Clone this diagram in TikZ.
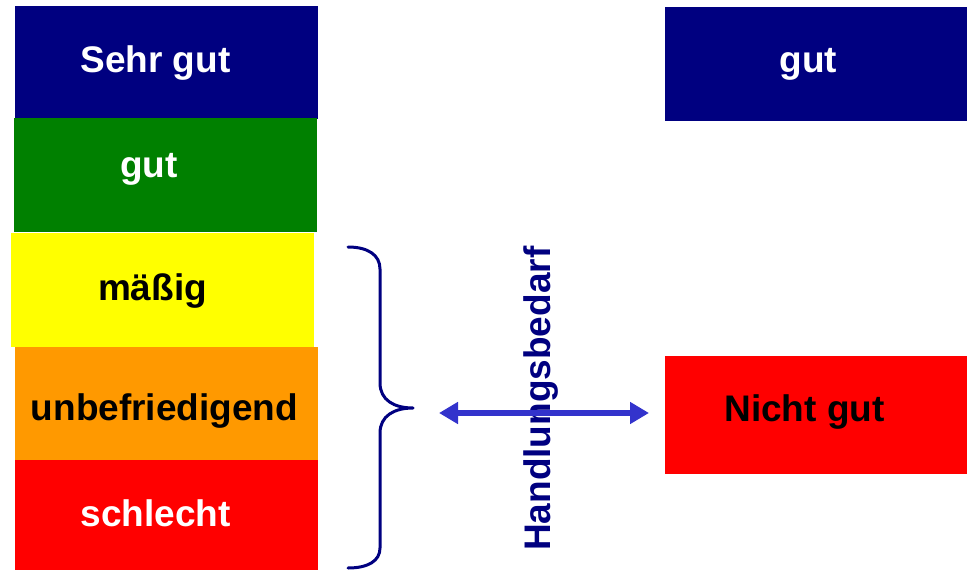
\documentclass[tikz,border=0pt]{standalone}
\usepackage{fontspec}
\setmainfont{Liberation Sans}
\usetikzlibrary{arrows.meta}
\definecolor{navyc}{HTML}{000080}
\definecolor{greenc}{HTML}{008000}
\definecolor{yellowc}{HTML}{FFFF00}
\definecolor{orangec}{HTML}{FF9900}
\definecolor{redc}{HTML}{FF0000}
\definecolor{arrowc}{HTML}{3333CC}
\begin{document}
\begin{tikzpicture}[x=1pt,y=-1pt,
  box/.style={draw=none, inner sep=0pt, outer sep=0pt, minimum width=303pt},
  lbl/.style={anchor=base, inner sep=0pt, font=\fontsize{37}{40}\selectfont\bfseries},
  bracepath/.style={draw=navyc, line width=3pt, line cap=round, line join=round},
  dblarrow/.style={draw=arrowc, line width=6pt, {Triangle[length=19pt,width=21pt]}-{Triangle[length=19pt,width=21pt]}}
]
\useasboundingbox (0,0) rectangle (967,570);
% left column boxes
\node[box, fill=navyc, minimum height=113pt] (b1) at (166.5,62.5) {};
\node[box, fill=greenc, minimum height=114pt] (b2) at (165.5,175) {};
\node[box, fill=yellowc, minimum height=114pt] (b3) at (162.5,290) {};
\node[box, fill=orangec, minimum height=113pt] (b4) at (166.5,403.5) {};
\node[box, fill=redc, minimum height=110pt] (b5) at (166.5,515) {};
% right column boxes
\node[box, fill=navyc, minimum width=302pt, minimum height=114pt] (r1) at (816,64) {};
\node[box, fill=redc, minimum width=302pt, minimum height=118pt] (r2) at (816,415) {};
% labels
\node[lbl, text=white] (t1) at (155.5,72) {Sehr gut};
\node[lbl, text=white] (t2) at (149,177) {gut};
\node[lbl, text=black] (t3) at (152.5,300) {mäßig};
\node[lbl, text=black] (t4) at (164.5,420) {unbefriedigend};
\node[lbl, text=white] (t5) at (155.5,526) {schlecht};
\node[lbl, text=white] (t6) at (808.5,72) {gut};
\node[lbl, text=black] (t7) at (804.5,421) {Nicht gut};
% brace
\coordinate (bt) at (348,247);
\coordinate (bm) at (413,408);
\coordinate (bb) at (348,568);
\draw[bracepath] (bt) .. controls (368,247) and (380,255) .. (380,269) -- (380,383)
  .. controls (380,400) and (394,408) .. (bm)
  .. controls (394,408) and (380,416) .. (380,433) -- (380,548)
  .. controls (380,561) and (368,568) .. (bb);
% vertical text
\node[lbl, text=navyc, anchor=base west, rotate=90] (hb) at (550,551) {Handlungsbedarf};
% arrow
\coordinate (aL) at (439,413);
\coordinate (aR) at (649,413);
\draw[dblarrow] (aL) -- (aR);
\end{tikzpicture}
\end{document}
